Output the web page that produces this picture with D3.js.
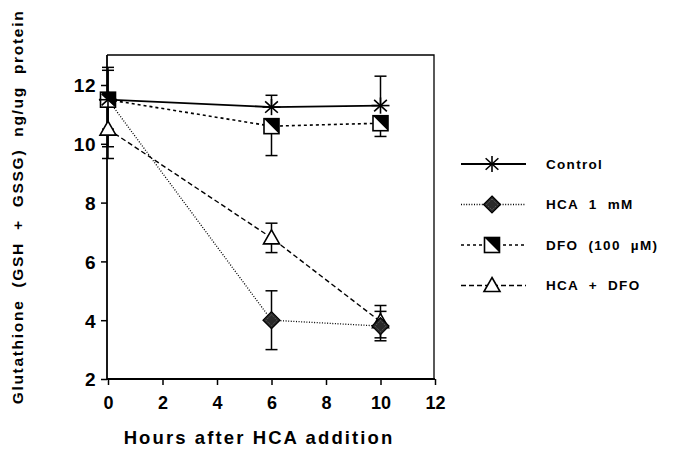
<!DOCTYPE html>
<html>
<head>
<meta charset="utf-8">
<script src="https://cdn.jsdelivr.net/npm/d3@7"></script>
<style>
  body { margin: 0; background: #fff; }
  svg { display: block; font-family: 'Liberation Sans', Arial, sans-serif; }
</style>
</head>
<body>
<script>
// data
const hours = [0, 6, 10]
const control = [11.5, 11.25, 11.3]
const hca = [11.5, 4.0, 3.8]
const dfo = [11.5, 10.6, 10.7]
const hcaDfo = [10.5, 6.8, 3.95]
// error bar lengths (up / down), drawn the way the original shows them
const controlUp = [1.1, 0.4, 1.0]
const controlDown = [0, 0, 0]
const hcaUp = [1.0, 1.0, 0.5]
const hcaDown = [1.6, 1.0, 0.5]
const dfoUp = [0, 0, 0]
const dfoDown = [1.0, 1.0, 0.45]
const hcaDfoUp = [1.0, 0.5, 0.55]
const hcaDfoDown = [1.0, 0.5, 0.55]
const xTicks = [0, 2, 4, 6, 8, 10, 12]
const yTicks = [2, 4, 6, 8, 10, 12]

const series = [
  { name: 'Control', values: control, up: controlUp, down: controlDown, symbol: 'star', dash: null, width: 1.8 },
  { name: 'HCA 1 mM', values: hca, up: hcaUp, down: hcaDown, symbol: 'diamond', dash: '1,1.6', width: 1.3 },
  { name: 'DFO (100 \u00b5M)', values: dfo, up: dfoUp, down: dfoDown, symbol: 'square', dash: '3,3', width: 1.6 },
  { name: 'HCA + DFO', values: hcaDfo, up: hcaDfoUp, down: hcaDfoDown, symbol: 'triangle', dash: '5,3', width: 1.4 }
]

const width = 679
const height = 451
const plot = { left: 107, right: 434, top: 55, bottom: 379 }

const x = d3.scaleLinear().domain([0, 12]).range([108, 435])
const y = d3.scaleLinear().domain([2, 12]).range([379, 85])

const svg = d3.select('body').append('svg').attr('width', width).attr('height', height)

// frame (thin top / right)
svg.append('path')
  .attr('d', `M${plot.left},${plot.top}H${plot.right}V${plot.bottom}`)
  .attr('fill', 'none').attr('stroke', '#000').attr('stroke-width', 1.3)

// axes
const yAxis = svg.append('g')
  .attr('transform', `translate(${plot.left},0)`)
  .call(d3.axisLeft(y).tickValues(yTicks).tickSize(6).tickSizeOuter(0).tickFormat(d3.format('d')))
yAxis.select('.domain').attr('d', `M0,${plot.top}V${plot.bottom}`).attr('stroke-width', 1.8)
yAxis.selectAll('.tick line').attr('stroke-width', 1.5)
yAxis.selectAll('.tick text')
  .attr('x', -11).attr('dy', '0.36em')
  .style('font-size', '19px').style('font-weight', 'bold').style('fill', '#000').style('letter-spacing', '0.5px')

const xAxis = svg.append('g')
  .attr('transform', `translate(0,${plot.bottom})`)
  .call(d3.axisBottom(x).tickValues(xTicks).tickSize(6).tickSizeOuter(0).tickFormat(d3.format('d')))
xAxis.select('.domain').attr('d', `M${plot.left},0H${x(12)}`).attr('stroke-width', 1.8)
xAxis.selectAll('.tick line').attr('stroke-width', 1.5)
xAxis.selectAll('.tick text')
  .attr('y', 17)
  .style('font-size', '18px').style('font-weight', 'bold').style('fill', '#000')
svg.selectAll('.domain, .tick line').attr('stroke', '#000')

// axis titles
svg.append('text')
  .attr('x', 259).attr('y', 444)
  .attr('text-anchor', 'middle')
  .style('font-size', '18.5px').style('font-weight', 'bold').style('letter-spacing', '2.1px')
  .text('Hours after HCA addition')

svg.append('text')
  .attr('transform', 'translate(23,207) rotate(-90)')
  .attr('text-anchor', 'middle')
  .style('font-size', '15.5px').style('font-weight', 'bold').style('letter-spacing', '1.7px')
  .attr('xml:space', 'preserve')
  .style('white-space', 'pre')
  .text('Glutathione  (GSH  +  GSSG)  ng/ug  protein')

// symbols
function drawSymbol(g, type, cx, cy) {
  const s = g.append('g').attr('transform', `translate(${cx},${cy})`)
  if (type === 'star') {
    const r = 9
    d3.range(8).forEach((i) => {
      const a = (i * Math.PI) / 4
      s.append('line')
        .attr('x1', 0).attr('y1', 0)
        .attr('x2', r * Math.cos(a)).attr('y2', r * Math.sin(a) * 0.9)
        .attr('stroke', '#000').attr('stroke-width', 1.6)
    })
  } else if (type === 'diamond') {
    const r = 8.5
    s.append('path')
      .attr('d', `M0,${-r}L${r},0L0,${r}L${-r},0Z`)
      .attr('fill', '#2a2a2a').attr('stroke', '#000').attr('stroke-width', 1.2)
    s.append('path')
      .attr('d', `M0,${-r + 3}L${r - 3},0L0,${r - 3}L${-r + 3},0Z`)
      .attr('fill', 'none').attr('stroke', '#777').attr('stroke-width', 0.8).attr('stroke-dasharray', '1,1.5')
  } else if (type === 'square') {
    const h = 7.5
    s.append('rect')
      .attr('x', -h).attr('y', -h).attr('width', 2 * h).attr('height', 2 * h)
      .attr('fill', '#fff').attr('stroke', '#000').attr('stroke-width', 1.6)
    s.append('path')
      .attr('d', `M${-h},${-h}L${h},${-h}L${h},${h}Z`)
      .attr('fill', '#000')
  } else if (type === 'triangle') {
    const w = 8
    s.append('path')
      .attr('d', `M0,-8L${w},6L${-w},6Z`)
      .attr('fill', '#fff').attr('stroke', '#000').attr('stroke-width', 1.6)
  }
}

const line = d3.line().x((d) => x(d[0])).y((d) => y(d[1]))

// connecting lines
series.forEach((s) => {
  svg.append('path')
    .datum(hours.map((h, i) => [h, s.values[i]]))
    .attr('d', line)
    .attr('fill', 'none')
    .attr('stroke', '#000')
    .attr('stroke-width', s.width)
    .attr('stroke-dasharray', s.dash)
})

// error bars
const cap = 6
series.forEach((s) => {
  hours.forEach((h, i) => {
    const cx = x(h)
    const v = s.values[i]
    ;[[s.up[i], 1], [s.down[i], -1]].forEach(([e, sign]) => {
      if (!e) return
      const yEnd = y(v + sign * e)
      svg.append('line')
        .attr('x1', cx).attr('x2', cx).attr('y1', y(v)).attr('y2', yEnd)
        .attr('stroke', '#000').attr('stroke-width', 1.5)
      svg.append('line')
        .attr('x1', cx - cap).attr('x2', cx + cap).attr('y1', yEnd).attr('y2', yEnd)
        .attr('stroke', '#000').attr('stroke-width', 1.5)
    })
  })
})

// markers (drawn back to front so control sits on top, like the original)
const markerOrder = [3, 1, 2, 0]
markerOrder.forEach((k) => {
  const s = series[k]
  const g = svg.append('g')
  hours.forEach((h, i) => drawSymbol(g, s.symbol, x(h), y(s.values[i])))
})

// legend
const legend = svg.append('g')
series.forEach((s, i) => {
  const ly = 164 + i * 40.5
  legend.append('line')
    .attr('x1', 461).attr('x2', 526).attr('y1', ly).attr('y2', ly)
    .attr('stroke', '#000').attr('stroke-width', s.width)
    .attr('stroke-dasharray', s.dash)
  drawSymbol(legend, s.symbol, 492, ly)
  legend.append('text')
    .attr('x', 546).attr('y', ly).attr('dy', '0.36em')
    .style('font-size', '13.5px').style('font-weight', 'bold').style('letter-spacing', '1.3px')
    .attr('xml:space', 'preserve').style('white-space', 'pre')
    .text(s.name.replace(/ /g, '  '))
})
</script>
</body>
</html>
